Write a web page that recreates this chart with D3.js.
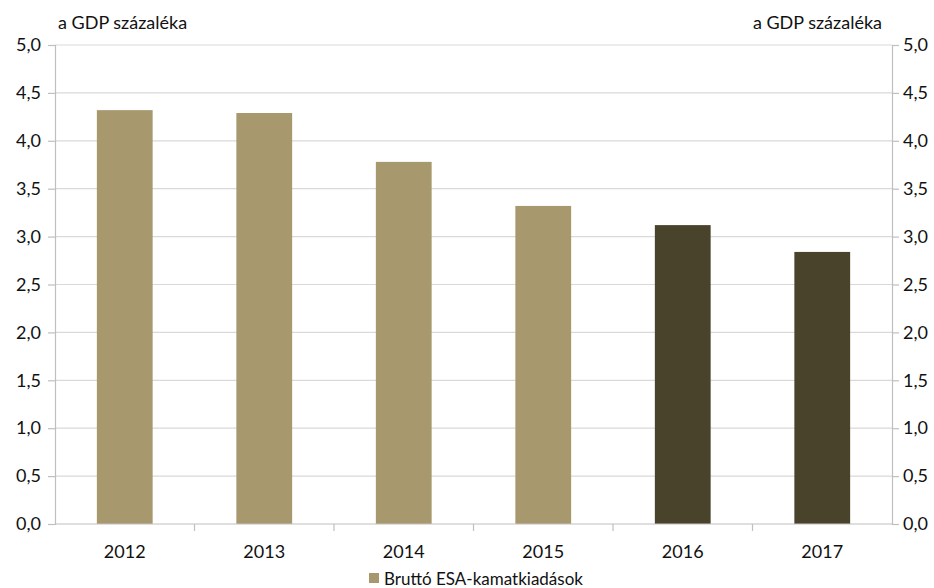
<!DOCTYPE html>
<html>
<head>
<meta charset="utf-8">
<script src="https://cdn.jsdelivr.net/npm/d3@7"></script>
<style>
  body { margin: 0; background: #fff; }
  svg text { font-family: Lato, "Open Sans", sans-serif; fill: #111; }
</style>
</head>
<body>
<div id="chart"></div>
<script>
const years = ["2012", "2013", "2014", "2015", "2016", "2017"];
const values = [4.32, 4.29, 3.78, 3.32, 3.12, 2.84];
const isForecast = [false, false, false, false, true, true];
const yTicks = [0, 0.5, 1, 1.5, 2, 2.5, 3, 3.5, 4, 4.5, 5];
const unitLabel = "a GDP százaléka";
const seriesName = "Bruttó ESA-kamatkiadások";

const width = 934, height = 588;
const margin = {top: 45, right: 42, bottom: 64, left: 55};

const svg = d3.select("#chart").append("svg")
    .attr("width", width)
    .attr("height", height);

const x = d3.scaleBand()
    .domain(years)
    .range([margin.left, width - margin.right]);

const y = d3.scaleLinear()
    .domain([0, 5])
    .range([height - margin.bottom, margin.top]);

const fmt = function(v) { return d3.format(".1f")(v).replace(".", ","); };

// gridlines
svg.append("g")
    .selectAll("line")
    .data(yTicks.filter(function(d) { return d > 0; }))
    .join("line")
    .attr("x1", margin.left).attr("x2", width - margin.right)
    .attr("y1", function(d) { return y(d); })
    .attr("y2", function(d) { return y(d); })
    .attr("stroke", "#d9d9d9")
    .attr("stroke-width", 1.2);

// bars
const barW = x.bandwidth() * 0.4;
svg.append("g")
    .selectAll("rect")
    .data(values)
    .join("rect")
    .attr("x", function(d, i) { return x(years[i]) + (x.bandwidth() - barW) / 2; })
    .attr("y", function(d) { return y(d); })
    .attr("width", barW)
    .attr("height", function(d) { return y(0) - y(d); })
    .attr("fill", function(d, i) { return isForecast[i] ? "#4a432c" : "#a8986e"; });

// left axis
const left = svg.append("g")
    .attr("transform", "translate(" + margin.left + ",0)")
    .call(d3.axisLeft(y).tickValues(yTicks).tickFormat(fmt).tickSize(7).tickPadding(7));

// right axis
const right = svg.append("g")
    .attr("transform", "translate(" + (width - margin.right) + ",0)")
    .call(d3.axisRight(y).tickValues(yTicks).tickFormat(fmt).tickSize(7).tickPadding(4));

[left, right].forEach(function(g) {
    g.select(".domain").attr("stroke", "#bfbfbf").attr("stroke-width", 1.2);
    g.selectAll(".tick line").attr("stroke", "#bfbfbf").attr("stroke-width", 1.2);
    g.selectAll(".tick text").attr("font-size", "18px").attr("fill", "#111");
});

// bottom axis
const bottom = svg.append("g")
    .attr("transform", "translate(0," + y(0) + ")");
bottom.append("line")
    .attr("x1", margin.left).attr("x2", width - margin.right)
    .attr("stroke", "#bfbfbf").attr("stroke-width", 1.2);
bottom.selectAll(".sep")
    .data(years.slice(1))
    .join("line")
    .attr("class", "sep")
    .attr("x1", function(d) { return x(d); })
    .attr("x2", function(d) { return x(d); })
    .attr("y1", 0).attr("y2", 7)
    .attr("stroke", "#bfbfbf").attr("stroke-width", 1.2);
bottom.selectAll(".yr")
    .data(years)
    .join("text")
    .attr("class", "yr")
    .attr("x", function(d) { return x(d) + x.bandwidth() / 2; })
    .attr("y", 34)
    .attr("text-anchor", "middle")
    .attr("font-size", "18px")
    .text(function(d) { return d; });

// unit labels
svg.append("text").attr("x", 58).attr("y", 29).attr("font-size", "18px").text(unitLabel);
svg.append("text").attr("x", 882).attr("y", 29).attr("font-size", "18px")
    .attr("text-anchor", "end").text(unitLabel);

// legend
svg.append("rect").attr("x", 369).attr("y", 573).attr("width", 10).attr("height", 10).attr("fill", "#a8986e");
svg.append("text").attr("x", 384).attr("y", 585).attr("font-size", "17px").text(seriesName);
</script>
</body>
</html>
